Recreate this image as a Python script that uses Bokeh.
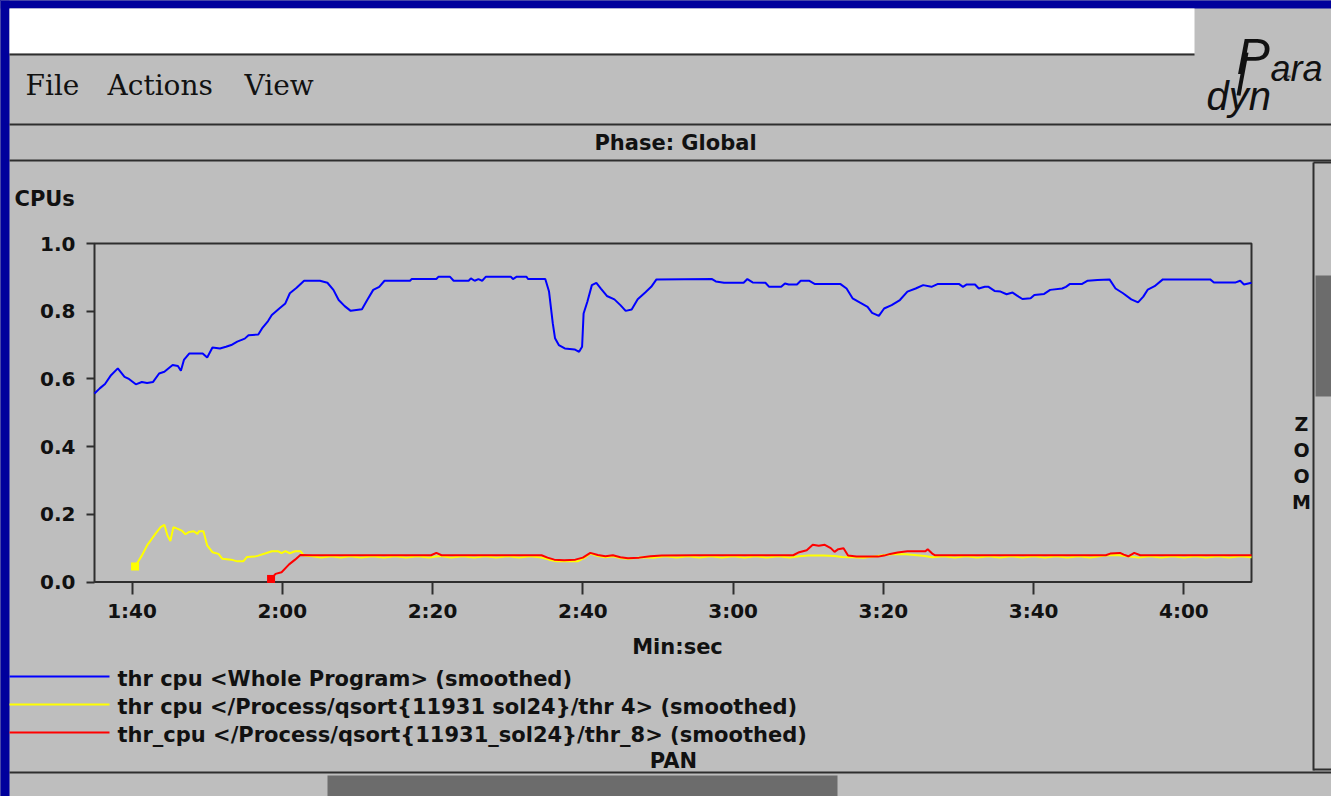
from bokeh.plotting import figure
from bokeh.models import Range1d, LinearAxis, FixedTicker, NumeralTickFormatter
from bokeh.embed import file_html
from bokeh.resources import INLINE
from bokeh.core.properties import value

# ---------------- data ----------------
x_ticks = [100, 120, 140, 160, 180, 200, 220, 240]
x_tick_labels = ["1:40", "2:00", "2:20", "2:40", "3:00", "3:20", "3:40", "4:00"]
y_ticks = [0.0, 0.2, 0.4, 0.6, 0.8, 1.0]

series_names = [
    "thr cpu <Whole Program> (smoothed)",
    "thr cpu </Process/qsort{11931 sol24}/thr 4> (smoothed)",
    "thr_cpu </Process/qsort{11931_sol24}/thr_8> (smoothed)",
]
series_colors = ["#0000ff", "#ffff00", "#ff0000"]

blue_t = [95.0, 95.7, 96.4, 97.2, 98.1, 99.0, 99.5, 100.5, 101.3, 102.0, 102.8, 103.6, 104.3,
          105.4, 106.1, 106.5, 106.9, 107.6, 109.4, 110.0, 110.7, 111.7, 112.5, 113.2, 114.0,
          115.0, 115.5, 116.8, 117.3, 118.1, 118.6, 119.6, 120.4, 121.0, 121.9, 122.9, 125.0,
          126.0, 126.8, 127.5, 128.3, 129.1, 130.6, 131.3, 132.1, 132.9, 133.6, 137.0, 137.2,
          140.5, 140.8, 142.3, 142.8, 144.8, 145.1, 145.6, 146.1, 146.6, 147.1, 150.4, 150.7,
          151.2, 152.5, 152.7, 155.0, 155.5, 156.0, 156.3, 156.8, 157.6, 158.9, 159.5, 159.9,
          160.1, 160.6, 161.2, 161.8, 162.4, 163.2, 164.2, 165.0, 165.7, 166.5, 167.3, 168.3,
          169.1, 169.8, 177.2, 177.7, 178.8, 181.4, 181.9, 182.6, 184.3, 184.8, 186.4, 186.9,
          187.4, 188.5, 189.0, 190.1, 190.9, 194.3, 195.1, 195.9, 196.9, 197.9, 198.5, 199.4,
          200.1, 201.1, 202.2, 203.2, 204.3, 205.3, 206.4, 207.2, 210.1, 210.6, 211.1, 212.2,
          212.7, 213.5, 214.0, 214.8, 215.6, 216.4, 217.2, 218.0, 218.5, 219.6, 220.1, 221.4,
          222.2, 223.8, 224.3, 224.8, 226.4, 227.2, 228.5, 230.1, 230.9, 231.9, 233.0, 233.9,
          234.6, 235.2, 236.1, 237.2, 243.5, 244.0, 246.9, 247.5, 248.0, 249.0]
blue_v = [0.557, 0.572, 0.585, 0.611, 0.631, 0.606, 0.601, 0.584, 0.591, 0.588, 0.591, 0.616, 0.621,
          0.641, 0.638, 0.624, 0.656, 0.675, 0.675, 0.663, 0.693, 0.690, 0.695, 0.700, 0.710,
          0.719, 0.729, 0.731, 0.749, 0.771, 0.789, 0.808, 0.823, 0.853, 0.869, 0.890, 0.890,
          0.884, 0.863, 0.833, 0.815, 0.801, 0.806, 0.833, 0.863, 0.872, 0.890, 0.890, 0.895,
          0.895, 0.902, 0.902, 0.890, 0.890, 0.897, 0.890, 0.895, 0.890, 0.902, 0.902, 0.895,
          0.902, 0.902, 0.895, 0.895, 0.858, 0.764, 0.720, 0.700, 0.690, 0.687, 0.680, 0.695,
          0.793, 0.828, 0.877, 0.884, 0.867, 0.845, 0.835, 0.818, 0.801, 0.805, 0.835, 0.855,
          0.872, 0.894, 0.895, 0.888, 0.884, 0.884, 0.895, 0.885, 0.884, 0.872, 0.872, 0.882,
          0.879, 0.879, 0.890, 0.890, 0.880, 0.880, 0.867, 0.838, 0.825, 0.813, 0.795, 0.786,
          0.808, 0.818, 0.833, 0.858, 0.867, 0.877, 0.872, 0.880, 0.880, 0.872, 0.879, 0.879,
          0.867, 0.872, 0.872, 0.860, 0.858, 0.850, 0.855, 0.843, 0.836, 0.838, 0.848, 0.851,
          0.863, 0.867, 0.872, 0.880, 0.880, 0.890, 0.892, 0.894, 0.867, 0.853, 0.835, 0.826,
          0.843, 0.864, 0.874, 0.894, 0.894, 0.885, 0.885, 0.890, 0.879, 0.884]

yellow_t = [100.4, 101.3, 102.0, 103.1, 103.8, 104.3, 104.7, 105.1, 105.5, 106.1, 106.6, 107.1,
            107.6, 108.2, 108.7, 108.9, 109.5, 110.0, 110.7, 111.5, 112.0, 113.2, 114.0, 114.8,
            115.3, 116.3, 116.8, 117.8, 118.6, 119.4, 119.9, 120.4, 121.0, 121.7, 122.4, 122.9,
            124.0, 125.2, 126.5, 127.8, 129.0, 130.5, 132.0, 133.5, 135.0, 136.5, 138.0, 139.5,
            141.0, 142.5, 144.0, 145.5, 147.0, 148.5, 150.0, 151.5, 153.0, 154.5, 155.5, 156.5,
            158.0, 159.3, 160.2, 161.0, 162.0, 163.0, 164.0, 165.0, 166.0, 167.0, 168.0, 169.5,
            171.0, 172.5, 174.0, 175.5, 177.0, 178.5, 180.0, 181.5, 183.0, 184.5, 186.0, 187.5,
            188.8, 190.0, 192.0, 193.5, 194.5, 196.0, 197.5, 199.0, 200.2, 201.5, 203.0, 204.5,
            205.5, 206.5, 208.0, 209.5, 211.0, 212.5, 214.0, 215.5, 217.0, 218.5, 220.0, 221.5,
            223.0, 224.5, 226.0, 227.5, 229.6, 231.0, 232.5, 234.0, 235.5, 237.0, 238.5, 240.0,
            241.5, 243.0, 244.5, 246.0, 247.5, 249.0]
yellow_v = [0.046, 0.078, 0.108, 0.142, 0.162, 0.169, 0.138, 0.121, 0.162, 0.157, 0.152, 0.141,
            0.148, 0.150, 0.142, 0.150, 0.150, 0.108, 0.088, 0.083, 0.069, 0.066, 0.061, 0.061,
            0.074, 0.075, 0.078, 0.085, 0.091, 0.091, 0.085, 0.091, 0.085, 0.091, 0.091, 0.078,
            0.076, 0.072, 0.076, 0.072, 0.076, 0.072, 0.076, 0.072, 0.076, 0.072, 0.076, 0.072,
            0.077, 0.072, 0.076, 0.072, 0.076, 0.072, 0.076, 0.072, 0.076, 0.072, 0.066, 0.061,
            0.062, 0.061, 0.071, 0.084, 0.077, 0.073, 0.076, 0.071, 0.069, 0.071, 0.073, 0.072,
            0.076, 0.072, 0.076, 0.072, 0.076, 0.072, 0.076, 0.072, 0.076, 0.072, 0.076, 0.072,
            0.076, 0.078, 0.078, 0.077, 0.074, 0.073, 0.072, 0.076, 0.080, 0.083, 0.082, 0.079,
            0.077, 0.073, 0.076, 0.072, 0.076, 0.072, 0.076, 0.072, 0.076, 0.072, 0.076, 0.072,
            0.076, 0.072, 0.076, 0.072, 0.078, 0.080, 0.076, 0.072, 0.076, 0.072, 0.076, 0.072,
            0.076, 0.072, 0.076, 0.072, 0.076, 0.073]

red_t = [118.5, 119.1, 119.9, 120.9, 121.7, 122.4, 124.0, 130.0, 135.0, 139.8, 140.5, 141.2,
         150.0, 154.5, 155.3, 156.2, 157.5, 159.0, 160.0, 161.0, 162.0, 163.0, 164.0, 165.0,
         166.0, 167.5, 169.0, 170.5, 175.0, 188.0, 188.8, 189.8, 190.6, 191.4, 192.2, 193.0,
         193.5, 194.0, 194.7, 195.3, 196.4, 199.3, 200.1, 200.9, 201.9, 203.2, 205.6, 205.9,
         206.5, 206.9, 229.6, 230.2, 231.5, 232.0, 232.6, 233.4, 234.2, 249.0]
red_v = [0.009, 0.024, 0.029, 0.052, 0.066, 0.080, 0.079, 0.079, 0.079, 0.079, 0.086, 0.079,
         0.079, 0.079, 0.072, 0.066, 0.064, 0.066, 0.072, 0.086, 0.080, 0.076, 0.079, 0.073,
         0.070, 0.072, 0.076, 0.078, 0.079, 0.079, 0.088, 0.094, 0.110, 0.107, 0.110, 0.100,
         0.089, 0.097, 0.100, 0.078, 0.075, 0.075, 0.078, 0.083, 0.087, 0.091, 0.091, 0.097,
         0.084, 0.079, 0.079, 0.084, 0.086, 0.081, 0.076, 0.086, 0.079, 0.079]

# ---------------- layout (canvas pixels, y grows downward) ----------------
W, H = 1331, 796
BOX_L, BOX_R, BOX_T, BOX_B = 94.0, 1251.0, 243.0, 581.5
T0, T1 = 95.0, 249.0
V0, V1 = 0.0, 1.0

GRAY = "#bebebe"
DARK = "#2e2e2e"
INK = "#111111"
THUMB = "#6c6c6c"
BLUE_BG = "#00009c"
FONT = value("DejaVu Sans")

p = figure(width=W, height=H, x_range=Range1d(0, W), y_range=Range1d(H, 0),
           x_axis_type=None, y_axis_type=None, min_border=0,
           output_backend="svg", toolbar_location=None)
p.outline_line_color = None
p.background_fill_color = GRAY
p.border_fill_color = GRAY

sx = (T1 - T0) / (BOX_R - BOX_L)
sy = (V1 - V0) / (BOX_B - BOX_T)
p.extra_x_ranges = {"time": Range1d(T0 - BOX_L * sx, T1 + (W - BOX_R) * sx)}
p.extra_y_ranges = {"cpu": Range1d(V0 - (H - BOX_B) * sy, V1 + BOX_T * sy)}

# ---------------- window decoration ----------------
p.quad(left=[0, 0, 9, 327, 1315], right=[9, W, 1194, 837, W], top=[0, 0, 8, 775, 275],
       bottom=[H, 8, 53, H, 396],
       fill_color=[BLUE_BG, BLUE_BG, "#ffffff", THUMB, THUMB], line_color=None)
p.segment(x0=[9, 9, 9, 1313, 1313, 1313, 9], y0=[54, 124, 160, 162, 162, 769, 772],
          x1=[1194, W, W, 1313, W, W, W], y1=[54, 124, 160, 770, 162, 769, 772],
          line_color=DARK, line_width=2)

# logo
p.text(x=[1236], y=[56], text=["P"], text_font=value("Liberation Sans"), text_font_style="italic",
       text_font_size="50px", text_color=INK, text_baseline="alphabetic", text_align="left")
p.segment(x0=[1246], y0=[52], x1=[1238], y1=[95], line_color=INK, line_width=4)
p.text(x=[1270], y=[68], text=["ara"], text_font=value("Liberation Sans"),
       text_font_style="italic", text_font_size="36px", text_color=INK,
       text_baseline="alphabetic", text_align="left")
p.text(x=[1206], y=[95], text=["dyn"], text_font=value("Liberation Sans"),
       text_font_style="italic", text_font_size="40px", text_color=INK,
       text_baseline="alphabetic", text_align="left")
p.text(x=[1283], y=[78], text=["\u2122"], text_font=FONT, text_font_size="9px",
       text_color=INK, text_baseline="middle", text_align="left")

# menu
p.text(x=[25, 107, 244], y=[85, 85, 85], text=["File", "Actions", "View"],
       text_font=value("DejaVu Serif"), text_font_size="28px", text_color=INK,
       text_baseline="middle", text_align="left")

# bold labels
p.text(x=[675], y=[142], text=["Phase: Global"], text_font=FONT, text_font_style="bold",
       text_font_size="21px", text_color=INK, text_baseline="middle", text_align="center")
p.text(x=[14], y=[198], text=["CPUs"], text_font=FONT, text_font_style="bold",
       text_font_size="21px", text_color=INK, text_baseline="middle", text_align="left")
p.text(x=[677, 673], y=[646, 760], text=["Min:sec", "PAN"], text_font=FONT,
       text_font_style="bold", text_font_size="21px", text_color=INK,
       text_baseline="middle", text_align="center")
p.text(x=[1301] * 4, y=[423, 449, 475, 501], text=["Z", "O", "O", "M"], text_font=FONT,
       text_font_style="bold", text_font_size="19px", text_color=INK,
       text_baseline="middle", text_align="center")

# legend
leg_y = [676, 704, 732]
p.segment(x0=[9] * 3, y0=leg_y, x1=[109] * 3, y1=leg_y, line_color=series_colors, line_width=2)
p.text(x=[117] * 3, y=[v + 2 for v in leg_y], text=series_names, text_font=FONT,
       text_font_style="bold", text_font_size="21px", text_color=INK,
       text_baseline="middle", text_align="left")

# ---------------- chart ----------------
p.quad(left=[T0], right=[T1], bottom=[V0], top=[V1], fill_color=None, line_color=DARK,
       line_width=2, x_range_name="time", y_range_name="cpu")

p.line(blue_t, blue_v, line_color=series_colors[0], line_width=2,
       x_range_name="time", y_range_name="cpu")
p.line(yellow_t, yellow_v, line_color=series_colors[1], line_width=2,
       x_range_name="time", y_range_name="cpu")
p.line(red_t, red_v, line_color=series_colors[2], line_width=2,
       x_range_name="time", y_range_name="cpu")
p.scatter([yellow_t[0]], [yellow_v[0]], marker="square", size=8, fill_color=series_colors[1],
          line_color=None, x_range_name="time", y_range_name="cpu")
p.scatter([red_t[0]], [red_v[0]], marker="square", size=8, fill_color=series_colors[2],
          line_color=None, x_range_name="time", y_range_name="cpu")

xaxis = LinearAxis(x_range_name="time", y_range_name="cpu", fixed_location=V0,
                   ticker=FixedTicker(ticks=x_ticks),
                   major_label_overrides={t: s for t, s in zip(x_ticks, x_tick_labels)})
yaxis = LinearAxis(x_range_name="time", y_range_name="cpu", fixed_location=T0,
                   ticker=FixedTicker(ticks=y_ticks),
                   formatter=NumeralTickFormatter(format="0.0"))
for ax, tick_len, standoff in ((xaxis, 12, 5), (yaxis, 8, 11)):
    ax.axis_line_color = None
    ax.major_tick_in = 0
    ax.major_tick_out = tick_len
    ax.major_tick_line_color = DARK
    ax.major_tick_line_width = 2
    ax.minor_tick_line_color = None
    ax.major_label_standoff = standoff
    ax.major_label_text_font = "DejaVu Sans"
    ax.major_label_text_font_style = "bold"
    ax.major_label_text_font_size = "20px"
    ax.major_label_text_color = INK
p.add_layout(xaxis, "below")
p.add_layout(yaxis, "left")

html = file_html(p, INLINE, title="Paradyn")
html = html.replace("</head>", "<style>body{background:#00009c;}</style></head>", 1)
open("out.html", "w").write(html)
